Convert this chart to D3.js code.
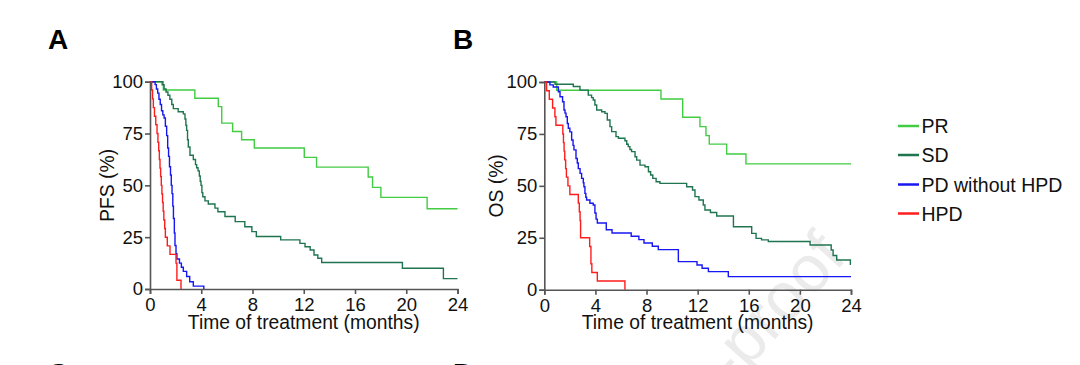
<!DOCTYPE html>
<html><head><meta charset="utf-8">
<script src="https://cdn.jsdelivr.net/npm/d3@7"></script>
<style>
html,body{margin:0;padding:0;background:#fff;}
svg{display:block;font-family:"Liberation Sans",Arial,sans-serif;}
</style></head>
<body>
<svg id="c" width="1080" height="365"></svg>
<script>
// ---------- data ----------
const seriesNames = ["PR", "SD", "PD without HPD", "HPD"];
const seriesColors = ["#42cc42", "#1f7550", "#1717f2", "#ff1c1c"];
const xTicks = [0, 4, 8, 12, 16, 20, 24];
const yTicks = [0, 25, 50, 75, 100];

// Panel A: PFS  [month, %]
const pfsPR = [[0,100],[1.04,96],[3.5,92],[5.33,88],[5.6,80],[6.45,76],[7.15,72],[8.14,68],[12.04,63.5],[13.0,58.8],[17.03,54],[17.37,49],[18.02,44.2],[21.63,38.7],[24,38.7]];
const pfsSD = [[0,100],[0.95,98.5],[1.1,96.5],[1.25,95],[1.4,93.5],[1.55,91.5],[1.7,89],[1.82,87],[2.2,85.5],[2.6,84.5],[2.73,82],[2.8,79],[2.86,76.5],[2.93,72],[2.99,68.5],[3.12,64.5],[3.38,62.5],[3.55,60],[3.64,58.5],[3.75,57],[3.85,54.5],[3.92,52],[3.98,50],[4.05,46.5],[4.12,44.5],[4.29,42.5],[4.55,41],[5.07,39],[5.3,37.3],[5.85,35],[6.65,32.5],[7.4,30],[7.95,27.7],[8.3,25.3],[10.2,23.7],[11.7,22],[12.1,20.4],[12.5,18.8],[12.8,16.4],[13.1,14.8],[13.4,12.8],[19.7,10],[22.9,5],[24,5]];
const pfsPD = [[0,100],[0.4,98.6],[0.5,96.5],[0.6,94.5],[0.7,91.5],[0.8,89],[0.9,86],[1.0,84],[1.1,82.5],[1.2,78.5],[1.3,74],[1.38,68],[1.45,64],[1.52,59],[1.6,55],[1.66,50],[1.72,46],[1.78,40],[1.83,34],[1.9,27],[1.95,21],[2.03,17],[2.1,14.5],[2.3,12.5],[2.45,10.5],[2.6,8.5],[2.86,6],[3.1,3.5],[3.38,1.4],[4.2,0]];
const pfsHPD = [[0,100],[0.13,96],[0.2,91.7],[0.26,87.5],[0.35,83.3],[0.45,79.2],[0.55,75],[0.62,70.8],[0.68,66.7],[0.73,62.5],[0.78,58.3],[0.83,54.2],[0.88,50],[0.93,45.8],[0.98,41.7],[1.03,37.5],[1.08,33.3],[1.15,29.2],[1.2,25],[1.35,20.8],[1.56,16.7],[2.03,12.5],[2.1,4.2],[2.42,0]];

// Panel B: OS  [month, %]
const osPR = [[0,100],[0.97,96],[9.13,91.8],[10.83,83],[12.18,78.5],[12.65,74.2],[12.91,70.1],[14.27,65.3],[15.78,60.6],[24,60.6]];
const osSD = [[0,100],[0.84,98.9],[2.27,97.8],[2.79,96.1],[3.44,93.7],[3.7,92.5],[3.83,91.3],[3.96,88.9],[4.1,86.5],[4.49,85.7],[4.75,84.9],[4.93,81.7],[5.14,78.5],[5.27,76.1],[5.61,73.7],[5.8,72.9],[6.31,71.7],[6.45,70],[6.57,68.9],[6.7,67.5],[6.83,66.5],[7.1,64],[7.23,62.4],[7.49,60],[7.88,59.2],[8.15,56.8],[8.32,55.2],[8.49,53.6],[8.75,52],[9.05,51.2],[11.14,49.6],[11.6,48],[11.79,44.8],[12.1,43.2],[12.44,40.8],[12.57,38.4],[13.0,37.2],[13.49,35.5],[14.8,30.3],[16.23,27.1],[16.57,24.7],[17.0,24],[17.53,23.2],[20.8,21.5],[22.45,19.1],[22.6,16.5],[22.88,14.3],[23.95,12.2],[24,12.2]];
const osPD = [[0,100],[0.44,98.6],[0.7,97.6],[1.1,95.3],[1.23,92.9],[1.43,90.5],[1.54,86.5],[1.62,85],[1.7,83.3],[1.8,80],[1.88,77.7],[2.0,76],[2.14,72.1],[2.25,69.5],[2.32,67.3],[2.48,63.2],[2.58,61],[2.66,58.3],[2.8,56],[2.92,53.6],[3.05,51.5],[3.1,49.6],[3.18,46.4],[3.25,44.5],[3.31,43.2],[3.57,41.6],[3.83,40.8],[3.96,36.9],[4.05,34],[4.15,32.1],[4.85,28.9],[5.3,27.3],[6.8,25.7],[7.4,24.1],[7.8,22.5],[8.45,20.9],[8.92,19.3],[10.49,13.5],[11.95,11.9],[12.35,10.3],[12.84,8.7],[14.4,6.3],[24,6.3]];
const osHPD = [[0,100],[0.18,95.8],[0.39,91.7],[0.65,87.5],[0.83,83.3],[0.91,79.2],[1.45,75],[1.5,70.8],[1.55,66.7],[1.6,62.5],[1.67,58.3],[1.73,54.2],[1.85,50],[2.0,45.8],[2.66,41.7],[2.74,37.5],[2.8,33.3],[2.84,25],[3.55,20.8],[3.65,12.5],[3.72,8.3],[4.15,4.2],[6.31,0]];

// ---------- drawing ----------
const svg = d3.select("#c");

// watermark (beneath everything)
svg.append("text")
  .attr("transform", "translate(848,258) rotate(-48)")
  .attr("text-anchor", "end")
  .attr("font-size", 66)
  .attr("fill", "#ebebeb")
  .text("Journal Pre-proof");

const panels = [
  {letter:"A", lx:48, ly:49, title:"PFS (%)", x0:150, x1:457.5, yTop:81.7, yBot:289, titleX:114, data:[pfsPR,pfsSD,pfsPD,pfsHPD]},
  {letter:"B", lx:453, ly:49, title:"OS (%)", x0:544.3, x1:851, yTop:82, yBot:289.7, titleX:503, data:[osPR,osSD,osPD,osHPD]}
];

panels.forEach(p => {
  const x = d3.scaleLinear().domain([0,24]).range([p.x0, p.x1]);
  const y = d3.scaleLinear().domain([0,100]).range([p.yBot, p.yTop]);
  const g = svg.append("g");

  g.append("text").attr("x", p.lx).attr("y", p.ly)
    .attr("font-size", 28).attr("font-weight", "bold").attr("fill", "#000").text(p.letter);

  const line = d3.line().x(d => x(d[0])).y(d => y(d[1])).curve(d3.curveStepAfter);
  p.data.forEach((s, i) => {
    g.append("path").datum(s).attr("d", line)
      .attr("fill", "none").attr("stroke", seriesColors[i]).attr("stroke-width", 1.4);
  });

  const xa = g.append("g").attr("transform", `translate(0,${p.yBot})`)
    .call(d3.axisBottom(x).tickValues(xTicks).tickSize(5).tickPadding(3).tickFormat(d3.format("d")));
  const ya = g.append("g").attr("transform", `translate(${p.x0},0)`)
    .call(d3.axisLeft(y).tickValues(yTicks).tickSize(5).tickPadding(2).tickFormat(d3.format("d")));
  [xa, ya].forEach(a => {
    a.select(".domain").attr("stroke", "#555").attr("stroke-width", 1.6);
    a.selectAll(".tick line").attr("stroke", "#555").attr("stroke-width", 1.6);
    a.selectAll(".tick text").attr("font-size", 18.5).attr("fill", "#111")
      .attr("font-family", "Liberation Sans, Arial, sans-serif");
  });
  xa.selectAll(".tick text").attr("dy", "0.76em");

  g.append("text").attr("x", (p.x0 + p.x1) / 2).attr("y", 329)
    .attr("text-anchor", "middle").attr("font-size", 19.3).attr("fill", "#111")
    .text("Time of treatment (months)");
  g.append("text").attr("transform", `translate(${p.titleX},${(p.yTop + p.yBot) / 2}) rotate(-90)`)
    .attr("text-anchor", "middle").attr("font-size", 19.3).attr("fill", "#111")
    .text(p.title);
});

// legend
const legY = [126, 155, 184.5, 213.5];
const leg = svg.append("g");
seriesNames.forEach((n, i) => {
  leg.append("line").attr("x1", 898).attr("x2", 919).attr("y1", legY[i]).attr("y2", legY[i])
    .attr("stroke", seriesColors[i]).attr("stroke-width", 2.5);
  leg.append("text").attr("x", 921.5).attr("y", legY[i]).attr("dy", "0.36em")
    .attr("font-size", 19.5).attr("fill", "#111").text(n);
});

// cut-off panel letters of the next row
svg.append("text").attr("x", 48).attr("y", 383).attr("font-size", 28).attr("font-weight", "bold").text("C");
svg.append("text").attr("x", 453).attr("y", 383).attr("font-size", 28).attr("font-weight", "bold").text("D");
</script>
</body></html>
